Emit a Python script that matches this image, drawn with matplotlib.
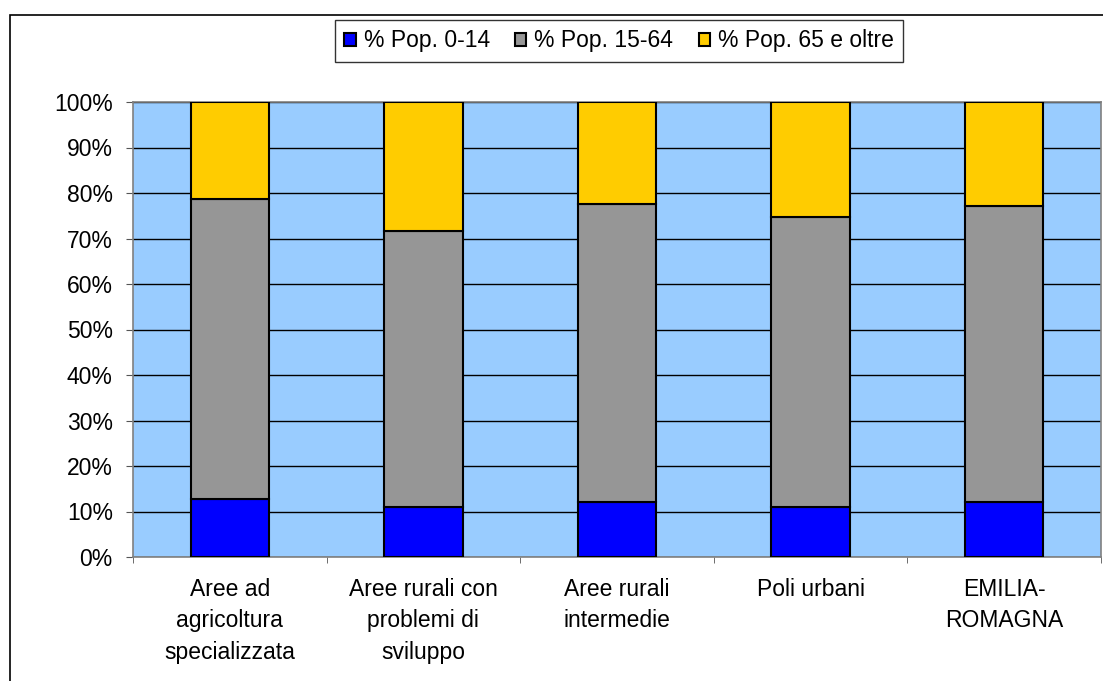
import matplotlib
matplotlib.use("Agg")
import matplotlib.pyplot as plt
import matplotlib.patches as patches
import numpy as np

plt.rcParams['font.family'] = ['Liberation Sans', 'DejaVu Sans']

# Dati: composizione della popolazione per classi di età (%)
aree = ["Aree ad\nagricoltura\nspecializzata", "Aree rurali con\nproblemi di\nsviluppo",
        "Aree rurali\nintermedie", "Poli urbani", "EMILIA-\nROMAGNA"]
pop_0_14 = [12.8, 10.9, 12.0, 10.9, 12.0]
pop_15_64 = [65.9, 60.8, 65.6, 63.9, 65.1]
pop_65_oltre = [21.3, 28.3, 22.4, 25.2, 22.9]
serie = ["% Pop. 0-14", "% Pop. 15-64", "% Pop. 65 e oltre"]
colori = ["#0000FF", "#969696", "#FFCC00"]

W, H = 1103, 681
fig = plt.figure(figsize=(W / 100, H / 100), dpi=100)
ax = fig.add_axes([133 / W, 1 - 557 / H, 968 / W, 455 / H])
ax.set_facecolor("#99CCFF")

x = np.arange(len(aree))
base = np.zeros(len(aree))
for valori, nome, col in zip([pop_0_14, pop_15_64, pop_65_oltre], serie, colori):
    ax.bar(x, valori, bottom=base, width=0.405, color=col, edgecolor="black",
           linewidth=1.5, label=nome, zorder=3)
    base = base + np.array(valori)

ax.set_xlim(-0.5, len(aree) - 0.5)
ax.set_ylim(0, 100)
ax.set_yticks(range(0, 101, 10))
ax.set_yticklabels([f"{v}%" for v in range(0, 101, 10)], fontsize=16.5)
ax.yaxis.grid(True, color="black", linewidth=1)
ax.set_axisbelow(True)

ax.set_xticks(x)
ax.set_xticklabels(aree, fontsize=16.5, linespacing=1.48, va="top")
ax.set_xticks(np.arange(-0.5, len(aree)), minor=True)
ax.tick_params(axis="x", which="major", length=0, pad=15)
ax.tick_params(axis="x", which="minor", length=4.5, color="#555555")
ax.tick_params(axis="y", length=5, color="#555555", pad=9.5)

for s in ax.spines.values():
    s.set_color("#808080")
    s.set_linewidth(1.2)

leg = fig.legend(loc="center", bbox_to_anchor=(619 / W, 1 - 41 / H), ncol=3,
                 fontsize=16.5, frameon=True, fancybox=False, edgecolor="black",
                 handlelength=0.5, handleheight=0.5, handletextpad=0.35,
                 columnspacing=1.1, borderpad=0.4, borderaxespad=0)
leg.get_frame().set_linewidth(1)

# Cornice esterna del grafico
fig.add_artist(patches.Rectangle((10 / W, -0.01), 1.0, 666 / H + 0.01,
                                 transform=fig.transFigure, fill=False,
                                 edgecolor="black", linewidth=1.2))

plt.savefig("out.png", dpi=100)
